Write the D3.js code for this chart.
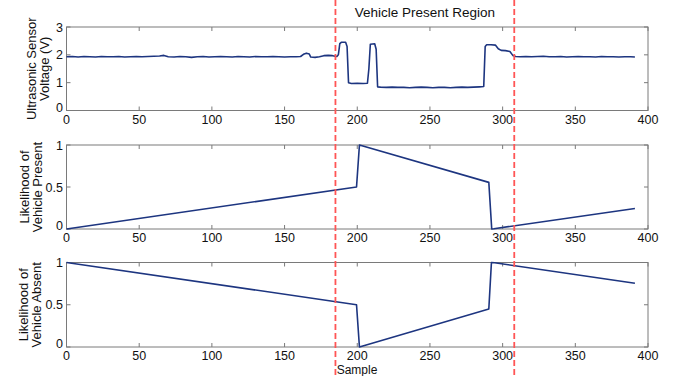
<!DOCTYPE html>
<html><head><meta charset="utf-8">
<script src="https://cdn.jsdelivr.net/npm/d3@7"></script>
<style>body{margin:0;background:#fff}svg{display:block}text{font-family:Arial,"Liberation Sans",sans-serif;fill:#111}</style>
</head><body><svg id="c" width="675" height="376"></svg>
<script>
// ---- data ----
const xTicks = [0,50,100,150,200,250,300,350,400];
const sensorTicks = [0,1,2,3];
const probTicks = [0,0.5,1];
const regionBounds = [185, 308];
const regionTitle = "Vehicle Present Region";
const sensorSample = [0,4,8,12,16,20,24,28,32,36,40,44,48,52,56,60,64,67,70,74,78,82,86,90,94,98,102,106,110,114,118,122,126,130,134,138,142,146,150,154,158,161,163,165,167,168,171,174,177,180,183,185,186,187,188,189,192,193,194,196,200,204,207,208,209,212,213,214,216,220,224,228,232,236,240,244,248,252,256,260,264,268,272,276,280,284,287,288,289,292,295,297,299,302,305,307,309,312,316,320,324,328,332,336,340,344,348,352,356,360,364,368,372,376,380,384,388,391];
const sensorVolt = [1.93,1.94,1.92,1.94,1.93,1.92,1.94,1.93,1.93,1.94,1.92,1.93,1.94,1.93,1.94,1.95,1.96,1.98,1.93,1.92,1.94,1.93,1.91,1.93,1.94,1.92,1.93,1.94,1.93,1.92,1.94,1.93,1.92,1.94,1.93,1.93,1.94,1.93,1.92,1.93,1.93,1.94,2.02,2.06,2.03,1.92,1.91,1.93,1.97,1.98,1.97,1.95,1.94,2.0,2.4,2.45,2.45,2.3,1.0,0.97,0.98,0.97,0.98,1.5,2.38,2.4,2.2,0.85,0.84,0.83,0.84,0.83,0.83,0.82,0.83,0.84,0.83,0.82,0.83,0.83,0.82,0.83,0.84,0.83,0.84,0.85,0.86,2.3,2.36,2.36,2.35,2.22,2.16,2.15,2.12,1.98,1.94,1.93,1.94,1.93,1.94,1.95,1.93,1.93,1.94,1.92,1.93,1.94,1.93,1.93,1.92,1.94,1.93,1.93,1.92,1.93,1.93,1.92];
const presentSample = [0,199.5,201.5,290.5,292.5,294,391];
const presentValue  = [0,0.5,1,0.555,0,0.003,0.245];
const absentSample  = [0,199.5,201.5,290.5,292.3,294.5,391];
const absentValue   = [1,0.5,0,0.45,1,0.997,0.755];

// ---- layout ----
const svg = d3.select("#c");
const x = d3.scaleLinear().domain([0,400]).range([66.5,648]);
const panels = [
  {top:27, bottom:110.5, dom:[0,3], ticks:sensorTicks, lab:["Ultrasonic Sensor","Voltage (V)"], lx:[32,45], xs:sensorSample, ys:sensorVolt},
  {top:145, bottom:229, dom:[0,1], ticks:probTicks, lab:["Likelihood of","Vehicle Present"], lx:[25,38], xs:presentSample, ys:presentValue},
  {top:262.5, bottom:347, dom:[0,1], ticks:probTicks, lab:["Likelihood of","Vehicle Absent"], lx:[24,37], xs:absentSample, ys:absentValue}
];
const axisCol = "#7a7a7a";
panels.forEach(p=>{
  const y = d3.scaleLinear().domain(p.dom).range([p.bottom,p.top]);
  const g = svg.append("g");
  const tl = 4;
  xTicks.forEach(t=>{
    g.append("line").attr("x1",x(t)).attr("x2",x(t)).attr("y1",p.bottom).attr("y2",p.bottom-tl).attr("stroke",axisCol);
    g.append("line").attr("x1",x(t)).attr("x2",x(t)).attr("y1",p.top).attr("y2",p.top+tl).attr("stroke",axisCol);
    g.append("text").attr("x",x(t)).attr("y",p.bottom+13).attr("text-anchor","middle").attr("font-size",12.5).text(t);
  });
  p.ticks.forEach(t=>{
    g.append("line").attr("x1",x.range()[0]).attr("x2",x.range()[0]+tl).attr("y1",y(t)).attr("y2",y(t)).attr("stroke",axisCol);
    g.append("line").attr("x1",x.range()[1]).attr("x2",x.range()[1]-tl).attr("y1",y(t)).attr("y2",y(t)).attr("stroke",axisCol);
    g.append("text").attr("x",63).attr("y",y(t)+ (t===p.dom[0]? 1:4.5)).attr("text-anchor","end").attr("font-size",12.5).text(t);
  });
  g.append("rect").attr("x",x.range()[0]).attr("y",p.top).attr("width",x.range()[1]-x.range()[0]).attr("height",p.bottom-p.top)
    .attr("fill","none").attr("stroke",axisCol).attr("stroke-width",1);
  const pts = p.xs.map((v,i)=>[v,p.ys[i]]);
  g.append("path").datum(pts).attr("d",d3.line().x(d=>x(d[0])).y(d=>y(d[1])))
    .attr("fill","none").attr("stroke","#1d3580").attr("stroke-width",1.6).attr("stroke-linejoin","round");
  const cy = (p.top+p.bottom)/2;
  p.lab.forEach((s,i)=>{
    g.append("text").attr("transform",`translate(${p.lx[i]+4},${cy}) rotate(-90)`).attr("text-anchor","middle").attr("font-size",13).text(s);
  });
});
regionBounds.forEach(b=>{
  svg.append("line").attr("x1",x(b)).attr("x2",x(b)).attr("y1",0).attr("y2",376)
    .attr("stroke","#ff5555").attr("stroke-width",1.8).attr("stroke-dasharray","6,3");
});
svg.append("text").attr("x",x(d3.mean(regionBounds))).attr("y",17).attr("text-anchor","middle").attr("font-size",13.5).text(regionTitle);
svg.append("text").attr("x",357).attr("y",373.5).attr("text-anchor","middle").attr("font-size",12).text("Sample");
</script></body></html>
